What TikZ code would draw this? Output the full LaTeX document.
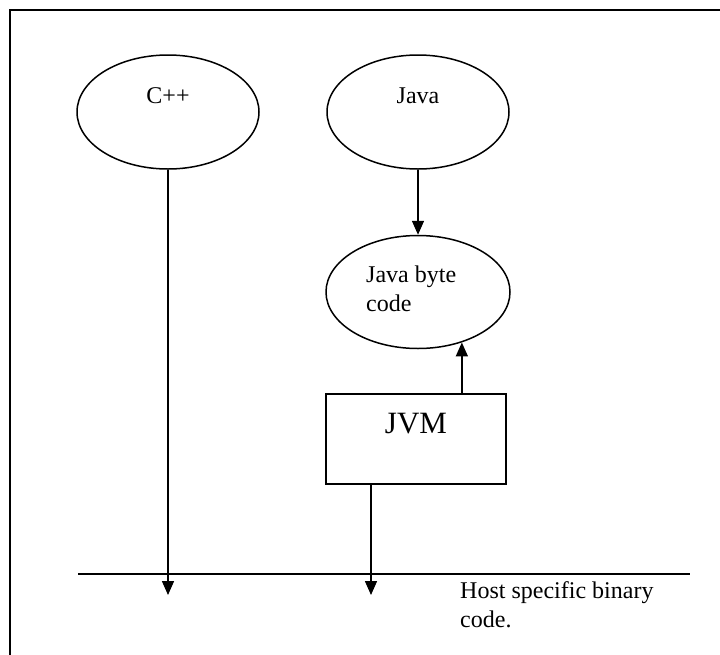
\documentclass[tikz,border=0pt]{standalone}
\usepackage{fontspec}
\setmainfont{Liberation Serif}
\usetikzlibrary{shapes.geometric,arrows.meta,calc}

\tikzset{
  lang/.style={ellipse, draw, line width=1.5pt, inner sep=0pt,
               minimum width=182pt, minimum height=114pt},
  boxnode/.style={rectangle, draw, line width=1.5pt, inner sep=0pt,
                  minimum width=180pt, minimum height=90pt},
  txt/.style={inner sep=0pt, font=\fontsize{24}{29}\selectfont},
  bigtxt/.style={inner sep=0pt, font=\fontsize{31}{36}\selectfont},
  flow/.style={line width=1.5pt, -{Triangle[length=14pt,width=12pt]}},
  rule/.style={line width=1.5pt}
}

\begin{document}
\begin{tikzpicture}[x=1pt, y=-1pt]
  \useasboundingbox (0,0) rectangle (720,654);
  \clip (0,0) rectangle (720,654);

  % outer frame, running off the right and bottom edges
  \draw[line width=2pt] (10,10) rectangle (740,680);

  % source languages
  \node[lang] (cpp)  at (168,112) {};
  \node[lang] (java) at (418,112) {};
  \node[txt, anchor=base] (cpptxt)  at (168,103) {C++};
  \node[txt, anchor=base] (javatxt) at (418,103) {Java};

  % byte code
  \node[lang, minimum width=184pt, minimum height=113pt] (jbc) at (418,292) {};
  \node[txt, anchor=base west] (jbc1) at (366,282) {Java byte};
  \node[txt, anchor=base west] (jbc2) at (366,311) {code};

  % virtual machine
  \node[boxnode] (jvm) at (416,439) {};
  \node[bigtxt, anchor=base] (jvmtxt) at (416,433) {JVM};

  % host level
  \coordinate (hw) at (78,574);
  \coordinate (he) at (690,574);
  \draw[rule] (hw) -- (he);
  \coordinate (cppend) at (168,595);
  \coordinate (jvmend) at (371,595);
  \node[txt, anchor=base west] (host1) at (460,598) {Host specific binary};
  \node[txt, anchor=base west] (host2) at (460,627) {code.};

  % connectors
  \draw[flow] (cpp.south) -- (cppend);
  \draw[flow] (java.south) -- (jbc.north);
  \draw[flow] (jbc.-49 |- jvm.north) -- (jbc.-49);
  \draw[flow] (jvmend |- jvm.south) -- (jvmend);
\end{tikzpicture}
\end{document}
